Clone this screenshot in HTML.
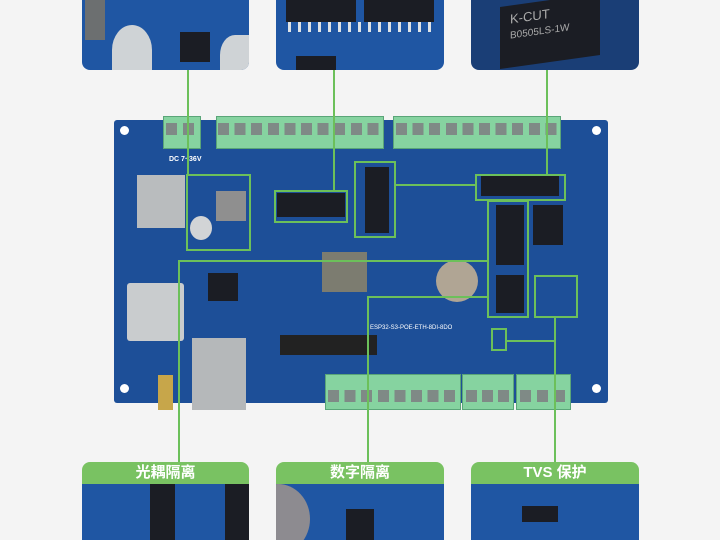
<!DOCTYPE html>
<html style="overflow:hidden;width:720px;height:540px"><head><meta charset="utf-8"><style>
body{margin:0;width:720px;height:540px;background:#f4f4f4;position:relative;overflow:hidden;font-family:"Liberation Sans","Noto Sans CJK SC",sans-serif}
div{position:absolute;box-sizing:border-box}
.pcb{background:#1d4f98}
.g{background:#6cc05a}
.box{border:2px solid #6cc05a}
.term{background:#86d3a0;border:1px solid #5aa578}
.hdr{background:#79c262;color:#fff;font-weight:bold;font-size:15px;text-align:center;line-height:22px;border-radius:8px 8px 0 0}
.chip{background:#1b1d24}
</style></head><body>
<!-- top crops -->
<div class="pcb" style="left:82px;top:0;width:167px;height:70px;border-radius:0 0 8px 8px;background:#1f56a3;overflow:hidden">
<div style="left:30px;top:25px;width:40px;height:50px;border-radius:50% 50% 0 0;background:#cfd3d6"></div>
<div class="chip" style="left:98px;top:32px;width:30px;height:30px"></div>
<div style="left:3px;top:0;width:20px;height:40px;background:#6c6f70"></div>
<div style="left:138px;top:35px;width:30px;height:40px;border-radius:50% 0 0 0;background:#cfd3d6"></div>
</div>
<div class="pcb" style="left:276px;top:0;width:168px;height:70px;border-radius:0 0 8px 8px;background:#1f56a3;overflow:hidden">
<div class="chip" style="left:10px;top:0;width:70px;height:22px"></div>
<div class="chip" style="left:88px;top:0;width:70px;height:22px"></div>
<div style="left:12px;top:22px;width:150px;height:10px;background:repeating-linear-gradient(90deg,#dfe3e6 0 3px,transparent 3px 10px)"></div>
<div class="chip" style="left:20px;top:56px;width:40px;height:14px"></div>
</div>
<div class="pcb" style="left:471px;top:0;width:168px;height:70px;border-radius:0 0 8px 8px;background:#1a3e76;overflow:hidden">
<div class="chip" style="left:29px;top:0;width:100px;height:62px;transform:skewY(-8deg);color:#aaa;font-size:13px;padding:6px 10px">K-CUT<br><span style="font-size:10px">B0505LS-1W</span></div>
</div>
<!-- board -->
<div class="pcb" style="left:114px;top:120px;width:494px;height:283px;border-radius:3px"></div>
<div style="left:120px;top:126px;width:9px;height:9px;border-radius:50%;background:#fff"></div>
<div style="left:592px;top:126px;width:9px;height:9px;border-radius:50%;background:#fff"></div>
<div style="left:120px;top:384px;width:9px;height:9px;border-radius:50%;background:#fff"></div>
<div style="left:592px;top:384px;width:9px;height:9px;border-radius:50%;background:#fff"></div>
<!-- top terminals -->
<div class="term" style="left:163px;top:116px;width:38px;height:33px"></div>
<div class="term" style="left:216px;top:116px;width:168px;height:33px"></div>
<div class="term" style="left:393px;top:116px;width:168px;height:33px"></div>
<div style="left:218px;top:123px;width:165px;height:12px;background:repeating-linear-gradient(90deg,#7f8a86 0 11px,transparent 11px 16.6px)"></div>
<div style="left:396px;top:123px;width:165px;height:12px;background:repeating-linear-gradient(90deg,#7f8a86 0 11px,transparent 11px 16.6px)"></div>
<div style="left:166px;top:123px;width:34px;height:12px;background:repeating-linear-gradient(90deg,#7f8a86 0 11px,transparent 11px 17px)"></div>
<div style="left:169px;top:156px;font-size:7px;color:#fff;font-weight:bold">DC 7~36V</div>
<!-- components -->
<div style="left:137px;top:175px;width:48px;height:53px;background:#b9bcbe"></div>
<div style="left:127px;top:283px;width:57px;height:58px;background:#c9ccce;border-radius:3px"></div>
<div style="left:192px;top:338px;width:54px;height:72px;background:#b5b8ba"></div>
<div style="left:216px;top:191px;width:30px;height:30px;background:#8f8f8f"></div>
<div style="left:190px;top:216px;width:22px;height:24px;border-radius:50%;background:#d2d4d6"></div>
<div class="chip" style="left:277px;top:193px;width:68px;height:24px"></div>
<div class="chip" style="left:365px;top:167px;width:24px;height:66px"></div>
<div class="chip" style="left:481px;top:176px;width:78px;height:20px"></div>
<div class="chip" style="left:496px;top:205px;width:28px;height:60px"></div>
<div class="chip" style="left:533px;top:205px;width:30px;height:40px"></div>
<div class="chip" style="left:496px;top:275px;width:28px;height:38px"></div>
<div style="left:322px;top:252px;width:45px;height:40px;background:#7c7c70"></div>
<div style="left:436px;top:260px;width:42px;height:42px;border-radius:50%;background:#b0a594"></div>
<div class="chip" style="left:208px;top:273px;width:30px;height:28px"></div>
<div style="left:158px;top:375px;width:15px;height:35px;background:#c7a64a"></div>
<div style="left:280px;top:335px;width:97px;height:20px;background:#222"></div>
<div style="left:370px;top:325px;font-size:6px;color:#fff">ESP32-S3-POE-ETH-8DI-8DO</div>
<!-- bottom terminals -->
<div class="term" style="left:325px;top:374px;width:136px;height:36px"></div>
<div class="term" style="left:462px;top:374px;width:52px;height:36px"></div>
<div class="term" style="left:516px;top:374px;width:55px;height:36px"></div>
<div style="left:328px;top:390px;width:132px;height:12px;background:repeating-linear-gradient(90deg,#7f8a86 0 11px,transparent 11px 16.6px)"></div>
<div style="left:466px;top:390px;width:46px;height:12px;background:repeating-linear-gradient(90deg,#7f8a86 0 11px,transparent 11px 16px)"></div>
<div style="left:520px;top:390px;width:48px;height:12px;background:repeating-linear-gradient(90deg,#7f8a86 0 11px,transparent 11px 17px)"></div>
<!-- green callouts -->
<div class="g" style="left:187px;top:70px;width:2px;height:105px"></div>
<div class="box" style="left:186px;top:174px;width:65px;height:77px"></div>
<div class="g" style="left:333px;top:70px;width:2px;height:121px"></div>
<div class="box" style="left:274px;top:190px;width:74px;height:33px"></div>
<div class="box" style="left:354px;top:161px;width:42px;height:77px"></div>
<div class="g" style="left:396px;top:184px;width:80px;height:2px"></div>
<div class="g" style="left:546px;top:70px;width:2px;height:105px"></div>
<div class="box" style="left:475px;top:174px;width:91px;height:27px"></div>
<div class="box" style="left:487px;top:200px;width:42px;height:118px"></div>
<div class="box" style="left:534px;top:275px;width:44px;height:43px"></div>
<div class="g" style="left:178px;top:260px;width:310px;height:2px"></div>
<div class="g" style="left:178px;top:260px;width:2px;height:203px"></div>
<div class="g" style="left:367px;top:296px;width:121px;height:2px"></div>
<div class="g" style="left:367px;top:296px;width:2px;height:167px"></div>
<div class="box" style="left:491px;top:328px;width:16px;height:23px"></div>
<div class="g" style="left:507px;top:340px;width:48px;height:2px"></div>
<div class="g" style="left:554px;top:318px;width:2px;height:145px"></div>
<!-- bottom panels -->
<div class="hdr" style="left:82px;top:462px;width:167px;height:22px">光耦隔离</div>
<div class="pcb" style="left:82px;top:484px;width:167px;height:56px;background:#1f56a3;overflow:hidden">
<div class="chip" style="left:68px;top:0;width:25px;height:56px"></div>
<div class="chip" style="left:143px;top:0;width:24px;height:56px"></div>
</div>
<div class="hdr" style="left:276px;top:462px;width:168px;height:22px">数字隔离</div>
<div class="pcb" style="left:276px;top:484px;width:168px;height:56px;background:#1f56a3;overflow:hidden">
<div style="left:-30px;top:0;width:64px;height:70px;border-radius:50%;background:#8d8b90"></div>
<div class="chip" style="left:70px;top:25px;width:28px;height:31px"></div>
</div>
<div class="hdr" style="left:471px;top:462px;width:168px;height:22px">TVS 保护</div>
<div class="pcb" style="left:471px;top:484px;width:168px;height:56px;background:#1f56a3;overflow:hidden">
<div class="chip" style="left:51px;top:22px;width:36px;height:16px"></div>
</div>
</body></html>
